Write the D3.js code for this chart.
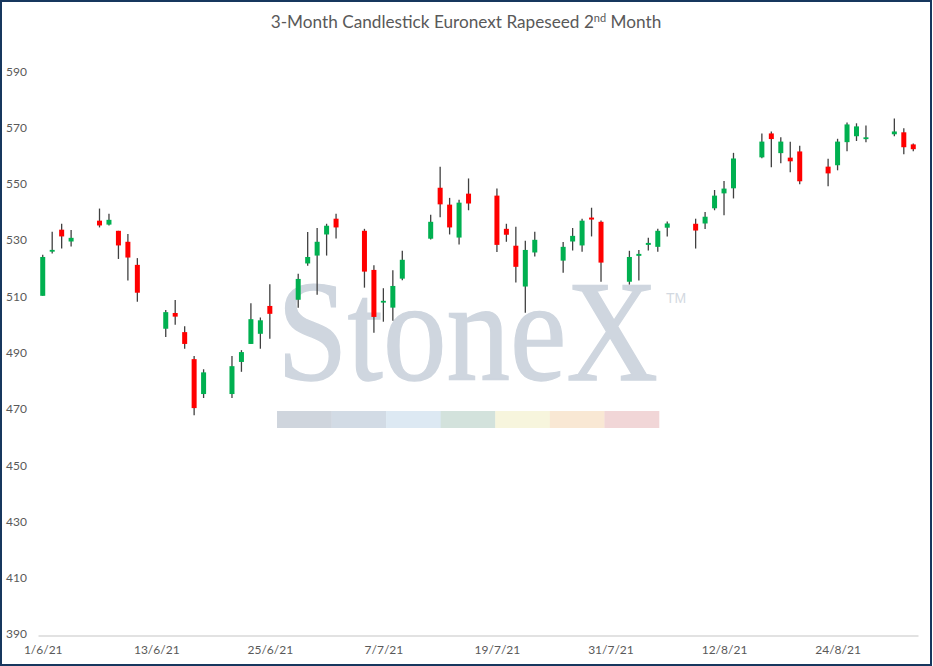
<!DOCTYPE html>
<html><head><meta charset="utf-8">
<script src="https://cdn.jsdelivr.net/npm/d3@7"></script>
<style>
html,body{margin:0;padding:0;background:#fff;}
svg{display:block;}
</style>
</head><body>
<svg id="chart" width="933" height="666"></svg>
<script>
const dates = ["2021-06-01","2021-06-02","2021-06-03","2021-06-04","2021-06-07","2021-06-08","2021-06-09","2021-06-10","2021-06-11",
"2021-06-14","2021-06-15","2021-06-16","2021-06-17","2021-06-18","2021-06-21","2021-06-22","2021-06-23","2021-06-24","2021-06-25",
"2021-06-28","2021-06-29","2021-06-30","2021-07-01","2021-07-02","2021-07-05","2021-07-06","2021-07-07","2021-07-08","2021-07-09",
"2021-07-12","2021-07-13","2021-07-14","2021-07-15","2021-07-16","2021-07-19","2021-07-20","2021-07-21","2021-07-22","2021-07-23",
"2021-07-26","2021-07-27","2021-07-28","2021-07-29","2021-07-30","2021-08-02","2021-08-03","2021-08-04","2021-08-05","2021-08-06",
"2021-08-09","2021-08-10","2021-08-11","2021-08-12","2021-08-13","2021-08-16","2021-08-17","2021-08-18","2021-08-19","2021-08-20",
"2021-08-23","2021-08-24","2021-08-25","2021-08-26","2021-08-27","2021-08-30","2021-08-31","2021-09-01"];
const open  = [510.7,526.4,534.2,530.0,537.4,536.0,533.8,529.9,521.7,
499.0,504.6,497.8,488.2,475.8,475.8,487.2,493.6,497.2,507.1,
509.3,522.2,525.0,532.5,538.1,533.8,519.9,508.3,506.5,516.8,
531.0,549.1,543.1,531.4,547.0,546.3,534.5,528.5,514.0,526.1,
523.2,530.0,528.6,538.5,537.0,515.7,524.9,528.8,528.1,534.9,
536.3,536.4,541.8,547.1,548.9,559.9,568.4,561.4,559.8,562.0,
556.6,557.1,565.3,567.4,566.4,568.1,568.8,564.5];
const high  = [525.3,533.5,536.3,534.1,541.7,539.9,533.8,532.7,524.1,
505.7,509.2,499.9,489.3,484.6,489.3,491.4,508.1,503.0,514.8,
518.5,533.4,534.8,536.3,539.9,534.5,521.6,513.4,519.8,526.7,
539.5,556.6,545.5,544.8,552.4,548.8,536.3,535.2,530.3,533.5,
529.8,534.8,538.1,542.0,537.5,526.7,527.0,531.3,534.5,537.1,
538.1,540.5,548.3,551.5,561.5,568.4,569.1,567.0,565.4,564.0,
559.4,566.5,572.3,572.0,571.2,573.7,570.2,564.8];
const low   = [510.7,525.7,527.5,528.2,535.0,535.7,523.8,516.1,508.6,
496.1,500.4,491.9,468.3,474.4,474.4,483.7,493.6,491.9,495.4,
506.5,521.4,511.1,525.0,531.1,513.6,497.6,501.5,501.8,516.2,
530.7,538.6,532.5,528.9,541.1,526.3,529.9,515.4,504.7,524.7,
518.9,526.8,526.4,531.8,515.7,514.7,516.1,526.8,526.4,531.8,
527.5,534.4,541.1,539.3,545.3,559.6,556.4,557.8,554.6,550.3,
549.6,555.3,562.1,565.7,565.3,567.4,561.0,562.1];
const close = [524.5,527.0,531.8,531.3,535.7,537.7,528.6,524.3,511.8,
504.9,503.3,493.6,470.8,483.5,485.7,490.7,502.4,502.0,504.3,
516.7,524.5,529.9,535.6,535.0,519.3,503.2,508.9,514.2,523.5,
537.0,543.2,535.0,543.8,543.5,528.8,532.4,521.0,527.0,530.6,
528.1,532.0,537.4,537.8,522.5,524.5,525.6,529.5,533.8,536.4,
533.9,538.8,546.3,548.8,559.5,565.5,566.4,565.5,558.5,551.4,
554.2,565.5,571.6,570.9,567.0,569.1,563.5,562.8];
const yTicks = [390,410,430,450,470,490,510,530,550,570,590];
const xTickDates = ["2021-06-01","2021-06-13","2021-06-25","2021-07-07","2021-07-19","2021-07-31","2021-08-12","2021-08-24"];
const stripeColors = ["#cfd5dd","#d2dbe5","#dde9f3","#d3e2dc","#f7f5dd","#f9e8d4","#f1d6d7"];

const parse = d3.timeParse("%Y-%m-%d");
const data = dates.map((d,i)=>({date:parse(d),o:open[i],h:high[i],l:low[i],c:close[i]}));
const halfDay = 12*3600*1000;

const svg = d3.select("#chart");
const W = 933, H = 666;
svg.append("rect").attr("x",0).attr("y",0).attr("width",W).attr("height",H).attr("fill","#fff");

const x = d3.scaleTime()
  .domain([new Date(parse(dates[0]).getTime()-halfDay), new Date(parse(dates[dates.length-1]).getTime()+halfDay)])
  .range([38, 918]);
const y = d3.scaleLinear().domain([390,600]).range([635.5,44.5]);

// title
const title = svg.append("text").attr("x",466).attr("y",27.5).attr("text-anchor","middle")
  .attr("font-family","Lato, 'Open Sans', sans-serif").attr("font-size",17.2).attr("fill","#595959");
title.append("tspan").text("3-Month Candlestick Euronext Rapeseed 2");
title.append("tspan").text("nd").attr("font-size",11).attr("dy",-6);
title.append("tspan").text(" Month").attr("dy",6);

// watermark
const wm = svg.append("g");
wm.append("g").attr("transform","translate(277,380) scale(1,1.126)")
  .append("text").attr("x",0).attr("y",0).text("StoneX")
  .attr("font-family","'Liberation Serif', 'DejaVu Serif', serif").attr("font-size",127)
  .attr("fill","#cfd6df").attr("stroke","#cfd6df").attr("stroke-width",1.2);
wm.append("text").attr("x",666).attr("y",303).text("TM")
  .attr("font-family","'Liberation Sans', sans-serif").attr("font-size",14).attr("fill","#d3d9e1");
const sx = d3.scaleBand().domain(d3.range(stripeColors.length)).range([277,659]);
wm.selectAll("rect.stripe").data(stripeColors).join("rect").attr("class","stripe")
  .attr("x",(d,i)=>sx(i)).attr("y",411).attr("width",sx.bandwidth()+0.3).attr("height",17).attr("fill",d=>d);

// axes
const yAxis = d3.axisLeft(y).tickValues(yTicks).tickSize(0).tickPadding(11);
const gy = svg.append("g").attr("transform","translate(38,0)").call(yAxis);
gy.select(".domain").remove();
gy.selectAll("text").attr("font-family","Lato, 'Open Sans', sans-serif").attr("font-size",12).attr("fill","#595959").attr("dy","0.2em");

const xAxis = d3.axisBottom(x).tickValues(xTickDates.map(parse)).tickFormat(d3.timeFormat("%-d/%-m/%y")).tickSize(0).tickSizeOuter(0).tickPadding(10);
const gx = svg.append("g").attr("transform","translate(0,635.5)").call(xAxis);
gx.select(".domain").attr("stroke","#d9d9d9").attr("stroke-width",1.3);
gx.selectAll("text").attr("font-family","Lato, 'Open Sans', sans-serif").attr("font-size",12).attr("fill","#595959");

// candles
const g = svg.append("g");
g.selectAll("line.wick").data(data).join("line").attr("class","wick")
  .attr("x1",d=>x(d.date)).attr("x2",d=>x(d.date))
  .attr("y1",d=>y(d.h)).attr("y2",d=>y(d.l))
  .attr("stroke","#404040").attr("stroke-width",1.3);
const bw = 5;
g.selectAll("rect.body").data(data).join("rect").attr("class","body")
  .attr("x",d=>x(d.date)-bw/2).attr("width",bw)
  .attr("y",d=>{const t=y(Math.max(d.o,d.c)), b=y(Math.min(d.o,d.c)); return (b-t<1.8)?(t+b)/2-0.9:t;})
  .attr("height",d=>Math.max(1.8, y(Math.min(d.o,d.c))-y(Math.max(d.o,d.c))))
  .attr("fill",d=>d.c>=d.o?"#00b050":"#ff0000");

// frame
svg.append("rect").attr("x",1).attr("y",1).attr("width",W-3).attr("height",H-2)
  .attr("fill","none").attr("stroke","#17375e").attr("stroke-width",2);
</script>
</body></html>
